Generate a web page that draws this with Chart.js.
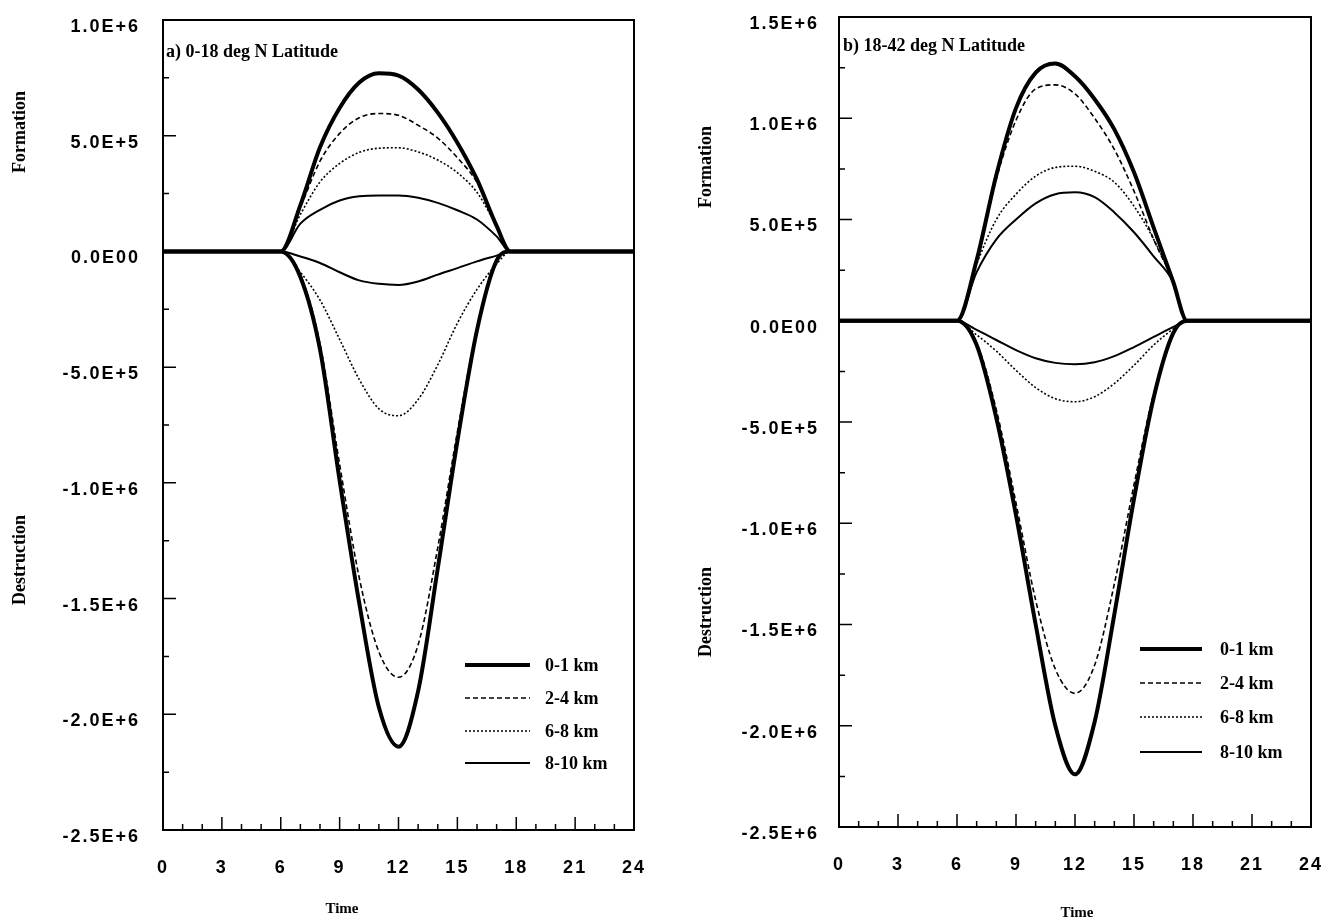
<!DOCTYPE html>
<html>
<head>
<meta charset="utf-8">
<script src="https://cdn.jsdelivr.net/npm/chart.js@4"></script>
<style>
html, body { margin: 0; padding: 0; background: #fff; }
#wrap { position: relative; width: 1326px; height: 924px; }
canvas { position: absolute; top: 0; }
#chartA { left: 0; }
#chartB { left: 663px; }
</style>
</head>
<body>
<div id="wrap">
  <canvas id="chartA" width="663" height="924"></canvas>
  <canvas id="chartB" width="663" height="924"></canvas>
</div>
<script>
// time of day (h)
const hours = [0, 6, 7, 8, 9, 10, 11, 12, 13, 14, 15, 16, 17, 17.7, 24];
const depthLabels = ['0-1 km', '2-4 km', '6-8 km', '8-10 km'];
const xTickLabels = ['0', '3', '6', '9', '12', '15', '18', '21', '24'];

// a) 0-18 deg N
const formA01  = [0, 0, 200000, 450000, 620000, 730000, 770000, 760000, 700000, 600000, 470000, 311000, 110000, 0, 0];
const formA24  = [0, 0, 190000, 390000, 510000, 578000, 596000, 588000, 545000, 490000, 405000, 298000, 110000, 0, 0];
const formA68  = [0, 0, 160000, 300000, 380000, 428000, 446000, 448000, 430000, 395000, 340000, 255000, 110000, 0, 0];
const formA810 = [0, 0, 120000, 180000, 220000, 238000, 242000, 242000, 232000, 210000, 178000, 138000, 65000, 0, 0];
const destA01  = [0, 0, -110000, -423000, -990000, -1520000, -1970000, -2140000, -1900000, -1370000, -820000, -340000, -40000, 0, 0];
const destA24  = [0, 0, -100000, -400000, -920000, -1410000, -1730000, -1840000, -1700000, -1280000, -780000, -330000, -40000, 0, 0];
const destA68  = [0, 0, -90000, -210000, -380000, -553000, -680000, -710000, -640000, -490000, -310000, -164000, -55000, 0, 0];
const destA810 = [0, 0, -22000, -50000, -90000, -125000, -140000, -145000, -130000, -100000, -72000, -43000, -18000, 0, 0];
const yTickValsA = [-2500000, -2000000, -1500000, -1000000, -500000, 0, 500000, 1000000];
const yTickLabelsA = ['-2.5E+6', '-2.0E+6', '-1.5E+6', '-1.0E+6', '-5.0E+5', '0.0E00', '5.0E+5', '1.0E+6'];

// b) 18-42 deg N
const formB01  = [0, 0, 300000, 720000, 1050000, 1225000, 1270000, 1207000, 1094000, 945000, 733000, 460000, 190000, 0, 0];
const formB24  = [0, 0, 290000, 700000, 990000, 1145000, 1165000, 1120000, 1000000, 846000, 640000, 402000, 190000, 0, 0];
const formB68  = [0, 0, 280000, 500000, 625000, 714000, 757000, 763000, 738000, 684000, 566000, 402000, 190000, 0, 0];
const formB810 = [0, 0, 240000, 402000, 500000, 580000, 625000, 634000, 610000, 535000, 437000, 318000, 190000, 0, 0];
const destB01  = [0, 0, -120000, -480000, -960000, -1500000, -2000000, -2240000, -1980000, -1450000, -880000, -380000, -60000, 0, 0];
const destB24  = [0, 0, -110000, -440000, -900000, -1380000, -1720000, -1840000, -1700000, -1300000, -810000, -360000, -55000, 0, 0];
const destB68  = [0, 0, -70000, -150000, -245000, -330000, -385000, -400000, -375000, -310000, -220000, -120000, -40000, 0, 0];
const destB810 = [0, 0, -45000, -95000, -145000, -185000, -208000, -215000, -205000, -175000, -130000, -80000, -30000, 0, 0];
const yTickValsB = [-2500000, -2000000, -1500000, -1000000, -500000, 0, 500000, 1000000, 1500000];
const yTickLabelsB = ['-2.5E+6', '-2.0E+6', '-1.5E+6', '-1.0E+6', '-5.0E+5', '0.0E00', '5.0E+5', '1.0E+6', '1.5E+6'];

const lineStyles = [
  { width: 4, dash: [] },
  { width: 1.6, dash: [5, 3] },
  { width: 1.6, dash: [2, 2] },
  { width: 2, dash: [] }
];

const SANS = '"Liberation Sans", Arial, sans-serif';
const SERIF = '"Liberation Serif", "Times New Roman", serif';

function toPoints(vals) {
  return hours.map((h, i) => ({ x: h, y: vals[i] }));
}

function makeDatasets(form, dest) {
  const sets = [];
  form.concat(dest).forEach((vals, i) => {
    const st = lineStyles[i % 4];
    sets.push({
      label: depthLabels[i % 4],
      data: toPoints(vals),
      borderColor: '#000',
      borderWidth: st.width,
      borderDash: st.dash,
      pointRadius: 0,
      fill: false,
      cubicInterpolationMode: 'monotone'
    });
  });
  return sets;
}

function panelPlugin(p) {
  return {
    id: 'panelDecor',
    beforeDraw(chart) {
      chart.ctx.letterSpacing = '2px';
    },
    afterDraw(chart) {
      const ctx = chart.ctx;
      const { left, top, right, bottom } = chart.chartArea;
      const xs = chart.scales.x, ys = chart.scales.y;
      ctx.save();
      ctx.letterSpacing = '0px';
      ctx.strokeStyle = '#000';
      ctx.fillStyle = '#000';

      // frame
      ctx.lineWidth = 2;
      ctx.strokeRect(left, top, right - left, bottom - top);

      // inward tick marks
      ctx.lineWidth = 1.5;
      ctx.beginPath();
      for (let v = ys.min; v <= ys.max + 1; v += 250000) {
        const y = ys.getPixelForValue(v);
        const len = Math.round(v / 250000) % 2 === 0 ? 13 : 6;
        ctx.moveTo(left, y);
        ctx.lineTo(left + len, y);
      }
      for (let h = 0; h <= 24; h++) {
        const x = xs.getPixelForValue(h);
        const len = h % 3 === 0 ? 13 : 6;
        ctx.moveTo(x, bottom);
        ctx.lineTo(x, bottom - len);
      }
      ctx.stroke();

      // panel title
      ctx.font = 'bold 18px ' + SERIF;
      ctx.textAlign = 'left';
      ctx.textBaseline = 'middle';
      ctx.fillText(p.title, p.titleX, p.titleY);

      // legend
      ctx.font = 'bold 18px ' + SERIF;
      depthLabels.forEach((lab, i) => {
        const ds = chart.data.datasets[i];
        const y = p.legendY[i];
        ctx.lineWidth = ds.borderWidth;
        ctx.setLineDash(ds.borderDash);
        ctx.beginPath();
        ctx.moveTo(p.legendX0, y);
        ctx.lineTo(p.legendX1, y);
        ctx.stroke();
        ctx.setLineDash([]);
        ctx.fillText(lab, p.legendTextX, y + 1);
      });

      // axis titles
      ctx.textAlign = 'center';
      ctx.font = 'bold 15px ' + SERIF;
      ctx.fillText('Time', p.timeX, p.timeY);
      ctx.font = 'bold 18px ' + SERIF;
      [['Formation', p.formY], ['Destruction', p.destY]].forEach(([txt, cy]) => {
        ctx.save();
        ctx.translate(p.sideX, cy);
        ctx.rotate(-Math.PI / 2);
        ctx.fillText(txt, 0, 0);
        ctx.restore();
      });
      ctx.restore();
    }
  };
}

function makeChart(id, form, dest, yMax, yVals, yLabels, p) {
  new Chart(document.getElementById(id), {
    type: 'line',
    data: { datasets: makeDatasets(form, dest) },
    options: {
      responsive: false,
      animation: false,
      devicePixelRatio: 1,
      layout: { padding: { top: p.padTop, right: p.padRight, bottom: 0, left: 0 } },
      plugins: { legend: { display: false }, tooltip: { enabled: false } },
      scales: {
        x: {
          type: 'linear',
          min: 0,
          max: 24,
          grid: { display: false, drawTicks: false },
          border: { display: false },
          afterFit: s => {
            s.height = p.xHeight;
            s.paddingLeft = 0; s.paddingRight = 0;
          },
          ticks: {
            stepSize: 3,
            padding: 27,
            color: '#000',
            maxRotation: 0,
            font: { family: SANS, size: 18, weight: 'bold' },
            callback: (v) => xTickLabels[Math.round(v / 3)]
          }
        },
        y: {
          min: -2500000,
          max: yMax,
          grid: { display: false, drawTicks: false },
          border: { display: false },
          afterFit: s => {
            s.width = p.yWidth;
            s.paddingTop = 0; s.paddingBottom = 0;
          },
          ticks: {
            stepSize: 500000,
            padding: p.yPad,
            labelOffset: 7,
            color: '#000',
            font: { family: SANS, size: 18, weight: 'bold' },
            callback: (v) => {
              const i = yVals.findIndex(t => Math.abs(t - v) < 1);
              return i >= 0 ? yLabels[i] : '';
            }
          }
        }
      }
    },
    plugins: [panelPlugin(p)]
  });
}

makeChart('chartA', [formA01, formA24, formA68, formA810], [destA01, destA24, destA68, destA810],
  1000000, yTickValsA, yTickLabelsA, {
    padTop: 20, padRight: 29, xHeight: 94, yWidth: 163, yPad: 23,
    title: 'a) 0-18 deg N Latitude', titleX: 166, titleY: 52,
    legendX0: 465, legendX1: 530, legendTextX: 545, legendY: [665, 698, 731, 763],
    timeX: 342, timeY: 909, sideX: 20, formY: 132, destY: 560
  });

makeChart('chartB', [formB01, formB24, formB68, formB810], [destB01, destB24, destB68, destB810],
  1500000, yTickValsB, yTickLabelsB, {
    padTop: 17, padRight: 15, xHeight: 97, yWidth: 176, yPad: 20,
    title: 'b) 18-42 deg N Latitude', titleX: 180, titleY: 46,
    legendX0: 477, legendX1: 539, legendTextX: 557, legendY: [649, 683, 717, 752],
    timeX: 414, timeY: 913, sideX: 43, formY: 167, destY: 612
  });
</script>
</body>
</html>
